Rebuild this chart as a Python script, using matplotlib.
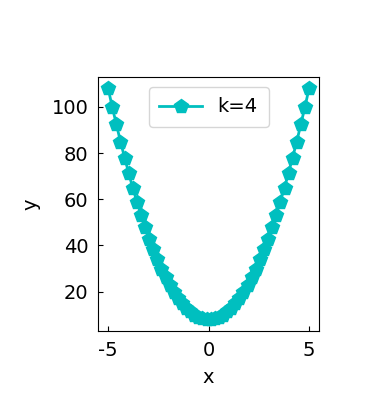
import matplotlib
matplotlib.use("Agg")
from matplotlib import pyplot as plt

# values (y = 4x^2 + 8 curve)
x_left = [-5.00, -4.80, -4.59, -4.39, -4.18, -3.98, -3.78, -3.57, -3.37, -3.16,
          -2.96, -2.76, -2.55, -2.35, -2.14, -1.94, -1.73, -1.53, -1.33, -1.12,
          -0.92, -0.71, -0.51, -0.31, -0.10]
y_left = [108.0, 100.0, 92.4, 85.0, 78.0, 71.4, 65.0, 59.0, 53.4, 48.0,
          43.0, 38.4, 34.0, 30.0, 26.4, 23.0, 20.0, 17.4, 15.0, 13.0,
          11.4, 10.0, 9.0, 8.4, 8.0]

x = x_left + [-v for v in x_left[::-1]]
y = y_left + y_left[::-1]
label = 'k=4'

plt.rcParams['axes.unicode_minus'] = False
fig = plt.figure(figsize=(3.91, 4.09), dpi=100)
ax = fig.add_axes([0.251, 0.191, 0.565, 0.621])
ax.plot(x, y, color='c', marker='p', markersize=10, linewidth=2, label=label)
ax.set_xlabel('x', fontsize=14, labelpad=6)
ax.set_ylabel('y', fontsize=14, labelpad=8)
ax.tick_params(direction='in', labelsize=14, pad=7)
ax.legend(loc='upper center', fontsize=14, borderpad=0.55, handlelength=2.2)
fig.savefig('out.png', dpi=100)
